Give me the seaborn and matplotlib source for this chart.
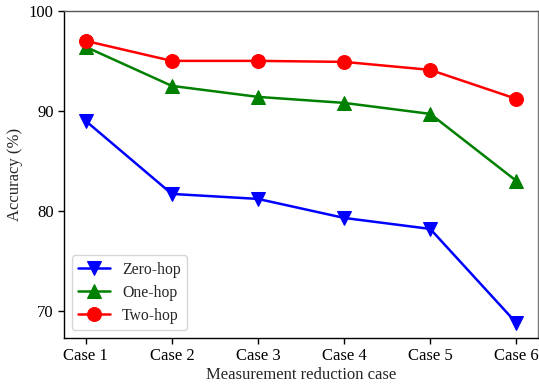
import matplotlib
matplotlib.use("Agg")
import matplotlib.pyplot as plt
import seaborn as sns
import pandas as pd

cases = ["Case 1", "Case 2", "Case 3", "Case 4", "Case 5", "Case 6"]
zero_hop = [89.0, 81.7, 81.2, 79.3, 78.2, 68.8]
one_hop = [96.4, 92.5, 91.4, 90.8, 89.7, 83.0]
two_hop = [97.0, 95.0, 95.0, 94.9, 94.1, 91.2]

sns.set_style("ticks")
plt.rcParams['font.family'] = ['Liberation Serif', 'DejaVu Serif']
plt.rcParams['mathtext.fontset'] = 'stix'

fig = plt.figure(figsize=(5.39, 3.88), dpi=100)
ax = fig.add_axes([0.119, 0.129, 0.879, 0.843])

series = [("Zero-hop", zero_hop, "blue", "v"),
          ("One-hop", one_hop, "green", "^"),
          ("Two-hop", two_hop, "red", "o")]
x = list(range(len(cases)))
for name, vals, col, mk in series:
    df = pd.DataFrame({"x": x, "y": vals})
    sns.lineplot(data=df, x="x", y="y", ax=ax, color=col, marker=mk,
                 markersize=10, linewidth=1.8, label=name,
                 markeredgecolor=col)

ax.set_xticks(x)
ax.set_xticklabels(cases)
ax.set_xlim(-0.25, 5.25)
ax.set_ylim(67.3, 100)
ax.set_yticks([70, 80, 90, 100])
ax.set_xlabel("Measurement reduction case", fontsize=12, labelpad=2)
ax.set_ylabel("Accuracy (%)", fontsize=12)
ax.tick_params(labelsize=12, direction="out", length=4, width=1, colors="black")
for s in ax.spines.values():
    s.set_visible(True)
    s.set_color("black")
    s.set_linewidth(1.0)
ax.spines["top"].set_color("#555555")
ax.spines["right"].set_color("#777777")
leg = ax.legend(loc="lower left", fontsize=11.3, frameon=True,
                handlelength=2.0, labelspacing=0.45, borderaxespad=0.5)
leg.get_frame().set_edgecolor("#cccccc")

fig.savefig("out.png", dpi=100)
